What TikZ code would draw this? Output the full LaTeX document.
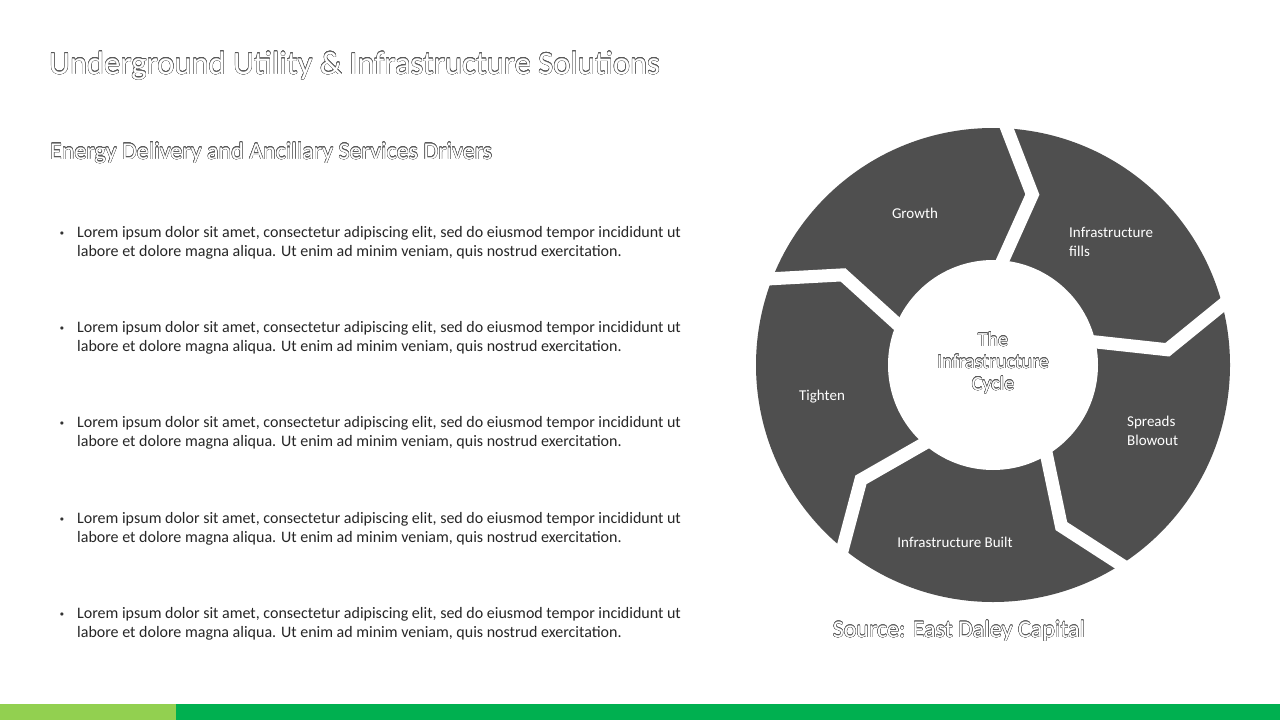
\documentclass[tikz,border=0pt]{standalone}
\usepackage{fontspec}
\setmainfont{Carlito}
\usepackage{contour}
\contourlength{0.3pt}
\contournumber{16}
\definecolor{seg}{HTML}{4F4F4F}
\definecolor{lgreen}{HTML}{92D050}
\definecolor{dgreen}{HTML}{00B050}
\newcommand{\olt}[1]{\contour{black!65}{\textcolor{white}{#1}}}
\tikzset{
  bul/.style={anchor=north west,align=left,font=\fontsize{16}{19}\selectfont,text=black!85,inner sep=0},
  lab/.style={text=white,font=\fontsize{15}{19}\selectfont,inner sep=0},
  gap/.style={white,line width=13pt,line join=miter}
}
\begin{document}
\begin{tikzpicture}[x=1pt,y=-1pt]
\useasboundingbox (0,0) rectangle (1280,720);
\fill[white] (0,0) rectangle (1280,720);
\node[anchor=base west,inner sep=0,font=\fontsize{32.5}{34}\selectfont] (title) at (49,74) {\olt{Underground Utility \& Infrastructure Solutions}};
\node[anchor=base west,inner sep=0,font=\fontsize{24}{26}\selectfont] (sub) at (50,159) {\olt{Energy Delivery and Ancillary Services Drivers}};
\foreach \i/\y in {1/226,2/321,3/416,4/512,5/607}{
  \node[bul] (b\i) at (77,\y) {Lorem ipsum dolor sit amet, consectetur adipiscing elit, sed do eiusmod tempor incididunt ut\\labore et dolore magna aliqua. Ut enim ad minim veniam, quis nostrud exercitation.};
  \node[inner sep=0,font=\fontsize{8}{8}\selectfont,text=black!80] (d\i) at (62,\y+8) {$\bullet$};
}
\begin{scope}[shift={(993,365)}]
  \fill[seg] (0,0) circle (237);
  \foreach \t in {88,16,-56,-128,-200}{
    \draw[gap] (-\t:250) -- (-\t+11:175) -- (-\t:90);
  }
  \fill[white] (0,0) circle (105);
  \node[circle,minimum size=210,inner sep=0] (hub) at (0,0) {};
\end{scope}
\node[align=center,font=\fontsize{20}{22}\selectfont] (ctr) at (993,363) {\olt{The}\\\olt{Infrastructure}\\\olt{Cycle}};
\node[lab] (g) at (915,213) {Growth};
\node[lab,align=left,anchor=north west] (f) at (1069,227) {Infrastructure\\fills};
\node[lab,align=left,anchor=north west] (s) at (1127,416) {Spreads\\Blowout};
\node[lab] (ib) at (955,542) {Infrastructure Built};
\node[lab] (t) at (822,397) {Tighten};
\node[font=\fontsize{24}{26}\selectfont,inner sep=0] (src) at (959,631) {\olt{Source: East Daley Capital}};
\fill[lgreen] (0,704) rectangle (176,720);
\fill[dgreen] (176,704) rectangle (1280,720);
\end{tikzpicture}
\end{document}
